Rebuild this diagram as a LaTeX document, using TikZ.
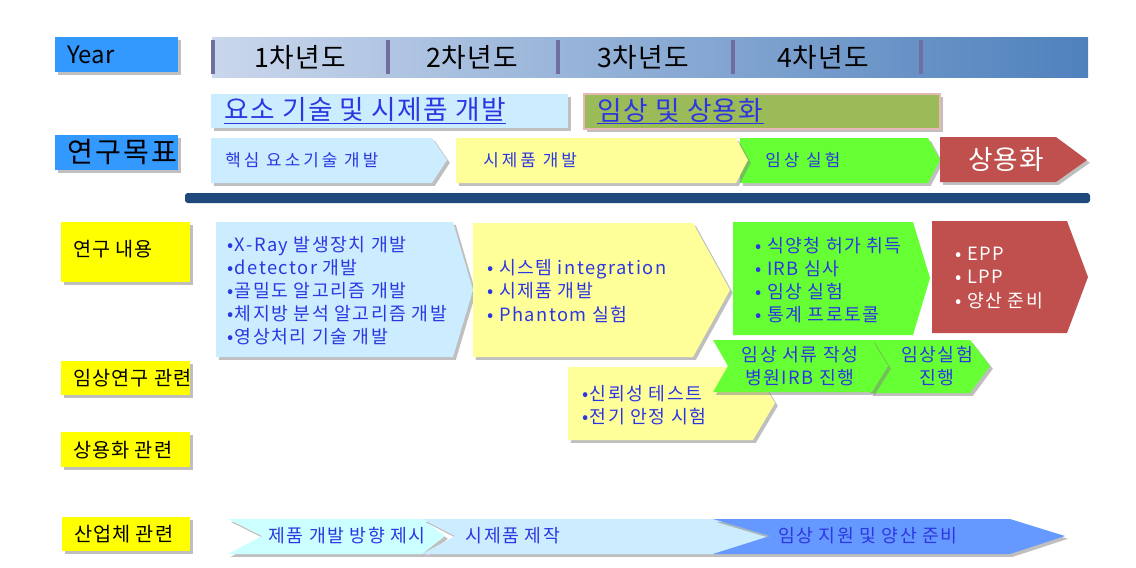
\documentclass[tikz,border=0pt]{standalone}
\usepackage{fontspec}
\setmainfont{Noto Sans CJK KR}
\usetikzlibrary{shadows}
\definecolor{tagblue}{RGB}{51,153,255}
\definecolor{tagyellow}{RGB}{255,255,0}
\definecolor{paleblue}{RGB}{204,236,255}
\definecolor{palecyan}{RGB}{204,255,255}
\definecolor{paleyellow}{RGB}{255,255,153}
\definecolor{brightgreen}{RGB}{102,255,51}
\definecolor{brick}{RGB}{192,80,77}
\definecolor{olivebox}{RGB}{155,187,89}
\definecolor{rosy}{RGB}{230,185,184}
\definecolor{navybar}{RGB}{31,73,125}
\definecolor{midblue}{RGB}{102,153,255}
\definecolor{ink}{RGB}{45,55,225}
\definecolor{sepline}{RGB}{110,110,160}
\definecolor{barleft}{RGB}{202,215,236}
\definecolor{barright}{RGB}{79,129,189}
\tikzset{
  boxshadow/.style={drop shadow={shadow xshift=2pt,shadow yshift=-2pt,opacity=.5}},
  tagtxt/.style={anchor=west,inner sep=0pt,font=\fontsize{14}{17}\selectfont\addfontfeature{LetterSpace=5}},
  bigtxt/.style={inner sep=0pt,font=\fontsize{19}{22}\selectfont\addfontfeature{LetterSpace=4}},
  goaltxt/.style={anchor=west,inner sep=0pt,text=ink,font=\fontsize{19}{22}\selectfont\addfontfeature{LetterSpace=5}},
  steptxt/.style={anchor=west,inner sep=0pt,text=ink,font=\fontsize{12}{14}\selectfont\addfontfeature{LetterSpace=18}},
  itemtxt/.style={anchor=west,inner sep=0pt,align=left,text=ink,font=\fontsize{13}{16.4}\selectfont\addfontfeature{LetterSpace=8}},
}
\begin{document}
\begin{tikzpicture}[x=0.025cm,y=-0.025cm]
\useasboundingbox (0,0) rectangle (1136,567);
\fill[white] (0,0) rectangle (1136,567);
% year row
  \fill[tagblue,boxshadow] (55,37) rectangle (178,72);
  \node[tagtxt,font=\fontsize{17}{20}\selectfont] (year) at (67,55) {Year};
  \fill[left color=barleft,right color=barright] (212,37) rectangle (1088,77);
  \foreach \x in {213,388,558,733,921}
    \fill[sepline] (\x-2,40) rectangle (\x+2,74);
  \foreach \y/\x in {1/300,2/472,3/643,4/823}
    \node[bigtxt] (yr\y) at (\x,57) {{\y}차년도};
% goals
  \fill[paleblue,boxshadow] (211,94) rectangle (568,128);
  \node[goaltxt] (goalA) at (224,110) {요소 기술 및 시제품 개발};
  \draw[ink,line width=1.2pt] ([yshift=-2.5pt]goalA.base west) -- ([yshift=-2.5pt]goalA.base east);
  \fill[olivebox,draw=rosy,line width=1.5pt,boxshadow] (584,94) rectangle (940,129);
  \node[goaltxt] (goalB) at (597,110) {임상 및 상용화};
  \draw[ink,line width=1.2pt] ([yshift=-2.5pt]goalB.base west) -- ([yshift=-2.5pt]goalB.base east);
  \fill[tagblue,boxshadow] (55,135) rectangle (178,170);
  \node[tagtxt,font=\fontsize{20}{23}\selectfont\addfontfeature{LetterSpace=8}] (aim) at (67,152) {연구목표};
% stages
  \fill[paleblue,boxshadow] (211,138) -- (432,138) -- (447,160) -- (432,183) -- (211,183) -- cycle;
  \node[steptxt] (core) at (225,160) {핵심 요소기술 개발};
  \fill[brightgreen,boxshadow] (740,138) -- (928,138) -- (940,160) -- (928,183) -- (740,183) -- cycle;
  \node[steptxt] (trial) at (765,160) {임상 실험};
  \fill[paleyellow,boxshadow] (456,138) -- (736,138) -- (748,160) -- (736,183) -- (456,183) -- cycle;
  \node[steptxt] (proto) at (483,160) {시제품 개발};
  \fill[brick,boxshadow] (940,137) -- (1056,137) -- (1087,160) -- (1056,182) -- (940,182) -- cycle;
  \node[bigtxt,text=white] (market) at (1006,159) {상용화};
  \fill[navybar,rounded corners=2] (185,193) rectangle (1090,203);
% research content
  \fill[tagyellow,boxshadow] (61,222) rectangle (190,282);
  \node[tagtxt] (content) at (73,249) {연구 내용};
  \fill[paleblue,boxshadow] (216,222) -- (453,222) -- (473,290) -- (453,357) -- (216,357) -- cycle;
  \node[itemtxt] (tech) at (227,291) {•X-Ray 발생장치 개발\\•detector 개발\\•골밀도 알고리즘 개발\\•체지방 분석 알고리즘 개발\\•영상처리 기술 개발};
  \fill[paleyellow,boxshadow] (473,223) -- (693,223) -- (730,290) -- (693,357) -- (473,357) -- cycle;
  \node[itemtxt] (system) at (487,291) {• 시스템 integration\\• 시제품 개발\\• Phantom 실험};
  \fill[brightgreen] (733,222) -- (913,222) -- (930,278) -- (913,335) -- (733,335) -- cycle;
  \node[itemtxt] (approval) at (755,280) {• 식양청 허가 취득\\• IRB 심사\\• 임상 실험\\• 통계 프로토콜};
  \fill[brick] (932,221) -- (1067,221) -- (1088,277) -- (1067,333) -- (932,333) -- cycle;
  \node[itemtxt,text=white] (launch) at (955,278) {• EPP\\• LPP\\• 양산 준비};
% clinical / commercial
  \fill[tagyellow,boxshadow] (61,361) rectangle (190,395);
  \node[tagtxt] (clinic) at (73,378) {임상연구 관련};
  \fill[tagyellow,boxshadow] (61,432) rectangle (190,467);
  \node[tagtxt] (commerce) at (73,450) {상용화 관련};
  \fill[paleyellow,boxshadow] (568,367) -- (753,367) -- (775,403) -- (753,440) -- (568,440) -- cycle;
  \node[itemtxt] (safety) at (582,405) {•신뢰성 테스트\\•전기 안정 시험};
  \fill[brightgreen,boxshadow] (870,340) -- (970,340) -- (990,366) -- (970,393) -- (870,393) -- (888,366) -- cycle;
  \node[itemtxt,align=center,anchor=center] (run) at (937,366) {임상실험\\진행};
  \fill[brightgreen,boxshadow] (713,340) -- (872,340) -- (888,366) -- (872,392) -- (713,392) -- (728,366) -- cycle;
  \node[itemtxt,align=center,anchor=center] (docs) at (800,366) {임상 서류 작성\\병원IRB 진행};
% industry
  \fill[tagyellow,boxshadow] (62,517) rectangle (190,551);
  \node[tagtxt] (industry) at (74,534) {산업체 관련};
  \fill[palecyan,boxshadow] (228,519) -- (422,519) -- (445,536) -- (422,554) -- (228,554) -- (262,536) -- cycle;
  \node[itemtxt,anchor=center] (plan) at (347,536) {제품 개발 방향 제시};
  \fill[paleblue,boxshadow] (422,519) -- (713,519) -- (770,536) -- (713,554) -- (422,554) -- (455,536) -- cycle;
  \node[itemtxt,anchor=center] (make) at (513,536) {시제품 제작};
  \fill[midblue,boxshadow] (713,519) -- (1010,519) -- (1065,536) -- (1010,554) -- (713,554) -- (770,536) -- cycle;
  \node[itemtxt,anchor=center] (support) at (868,536) {임상 지원 및 양산 준비};
\end{tikzpicture}
\end{document}
